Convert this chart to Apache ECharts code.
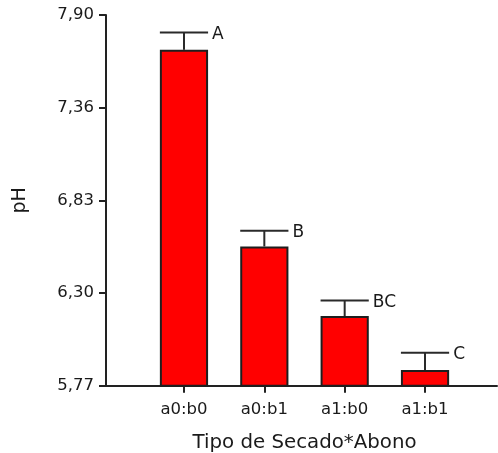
<!DOCTYPE html>
<html>
<head>
<meta charset="utf-8">
<script src="https://cdn.jsdelivr.net/npm/echarts@6/dist/echarts.min.js"></script>
<style>html,body{margin:0;padding:0;background:#fff}#c{width:498px;height:453px}</style>
</head>
<body>
<div id="c"></div>
<script>
const categories = ['a0:b0', 'a0:b1', 'a1:b0', 'a1:b1'];
const phMeans = [7.70, 6.57, 6.17, 5.86];
const phErrors = [0.10, 0.09, 0.09, 0.10];
const groupLetters = ['A', 'B', 'BC', 'C'];
const yTickLabels = ['5,77', '6,30', '6,83', '7,36', '7,90'];
const yMin = 5.77, yMax = 7.90;

const FONT = 'DejaVu Sans';
const AXIS = '#222';
const TXT = '#1a1a1a';

const chart = echarts.init(document.getElementById('c'), null, {renderer: 'canvas'});
chart.setOption({
  animation: false,
  backgroundColor: '#fff',
  grid: [
    {left: 143.8, right: 32.8, top: 15, bottom: 67.3, containLabel: false, outerBoundsMode: 'none'},
    {left: 106, right: 1, top: 15, bottom: 67.3, containLabel: false, outerBoundsMode: 'none'}
  ],
  xAxis: [
    {
      type: 'category', gridIndex: 0, data: categories,
      axisLine: {show: true, lineStyle: {color: AXIS, width: 2}},
      axisTick: {show: true, alignWithLabel: true, length: 7, lineStyle: {color: AXIS, width: 2}},
      axisLabel: {color: TXT, fontFamily: FONT, fontSize: 16.5, margin: 16},
      name: 'Tipo de Secado*Abono', nameLocation: 'middle', nameGap: 47,
      nameTextStyle: {color: TXT, fontFamily: FONT, fontSize: 19.8}
    },
    {
      type: 'value', gridIndex: 1, min: 0, max: 1,
      axisLine: {show: true, onZero: false, lineStyle: {color: AXIS, width: 2}},
      axisTick: {show: false}, axisLabel: {show: false}, splitLine: {show: false}
    }
  ],
  yAxis: [
    {
      type: 'value', gridIndex: 0, min: yMin, max: yMax, interval: (yMax - yMin) / 4,
      offset: 37.8,
      axisLine: {show: true, lineStyle: {color: AXIS, width: 2}},
      axisTick: {show: true, length: 7, lineStyle: {color: AXIS, width: 2}},
      axisLabel: {color: TXT, fontFamily: FONT, fontSize: 16.5, margin: 12,
        formatter: function (v, i) { return yTickLabels[i]; }},
      splitLine: {show: false},
      name: 'pH', nameLocation: 'middle', nameGap: 76, nameRotate: 90,
      nameTextStyle: {color: TXT, fontFamily: FONT, fontSize: 19}
    },
    {
      type: 'value', gridIndex: 1, min: 0, max: 1, show: false
    }
  ],
  series: [
    {
      type: 'bar', xAxisIndex: 0, yAxisIndex: 0, data: phMeans, barWidth: '60%',
      itemStyle: {color: '#ff0000', borderColor: '#1e1e1e', borderWidth: 2},
      z: 2
    },
    {
      type: 'custom', xAxisIndex: 0, yAxisIndex: 0, z: 3,
      data: categories.map((c, i) => [i, phMeans[i], phErrors[i]]),
      renderItem: function (params, api) {
        const i = api.value(0);
        const m = api.value(1);
        const e = api.value(2);
        const base = api.coord([i, m]);
        const top = api.coord([i, m + e]);
        const half = api.size([1, 0])[0] * 0.3;
        const style = {stroke: '#2a2a2a', lineWidth: 2};
        return {
          type: 'group',
          children: [
            {type: 'line', shape: {x1: base[0], y1: base[1], x2: top[0], y2: top[1]}, style: style},
            {type: 'line', shape: {x1: top[0] - half, y1: top[1], x2: top[0] + half, y2: top[1]}, style: style},
            {type: 'text', style: {text: groupLetters[params.dataIndex], x: top[0] + half + 4, y: top[1] + 2,
              textAlign: 'left', textVerticalAlign: 'middle', fill: TXT, font: '17px "DejaVu Sans"'}}
          ]
        };
      }
    }
  ]
});
</script>
</body>
</html>
